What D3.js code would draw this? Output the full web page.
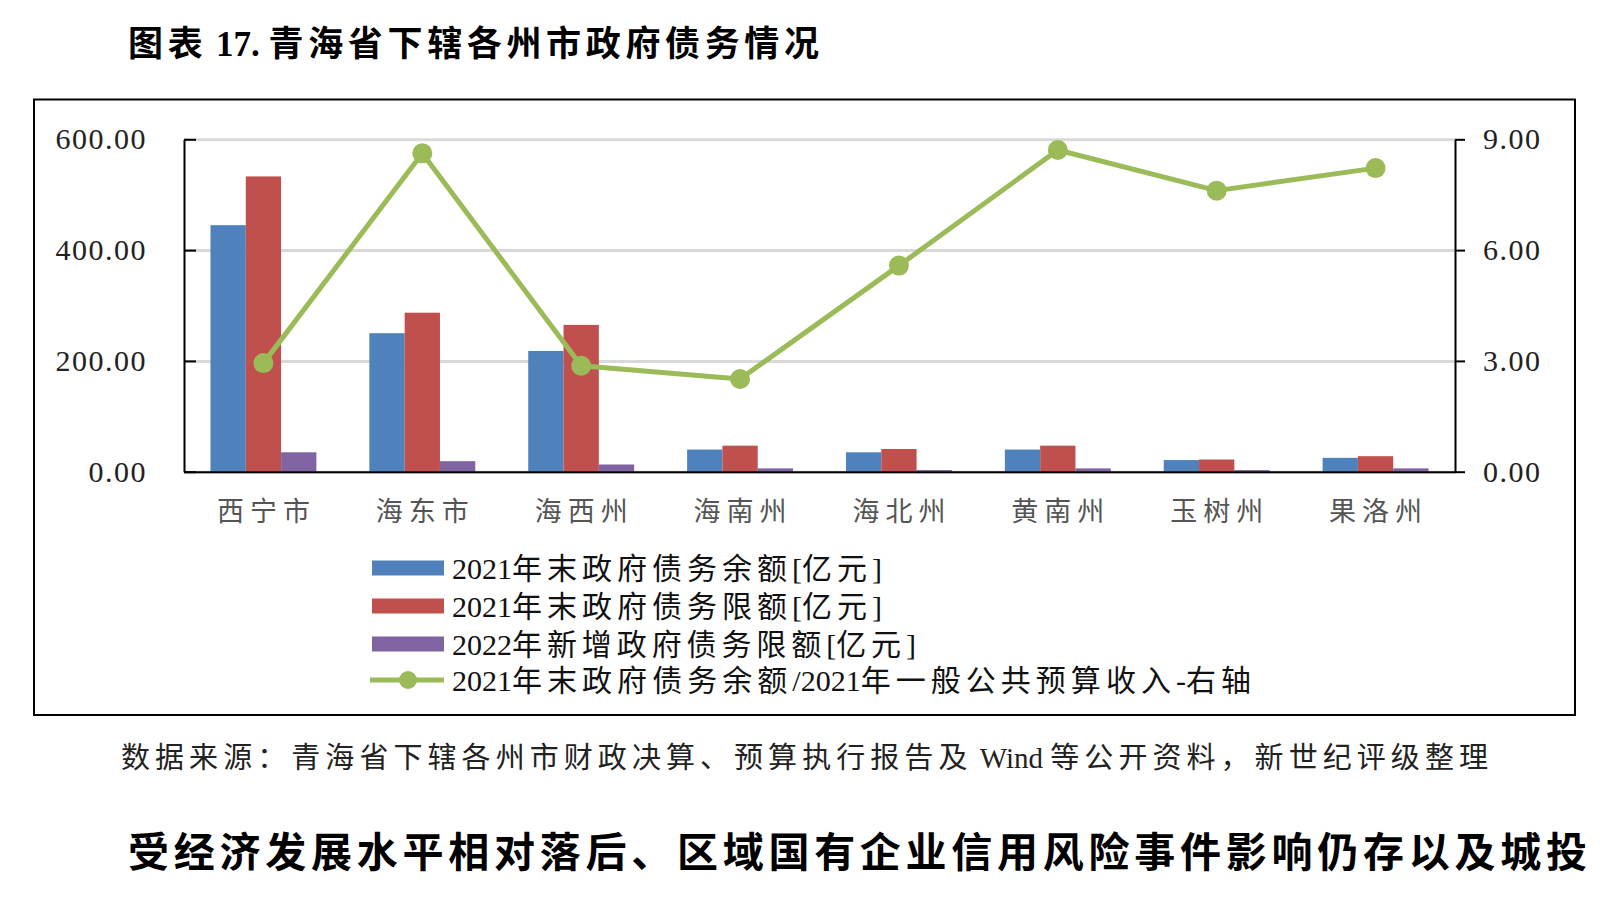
<!DOCTYPE html>
<html>
<head>
<meta charset="utf-8">
<script src="https://d3js.org/d3.v7.min.js"></script>
<style>
  body { margin: 0; background: #fff; }
  text { font-family: "Liberation Serif", "Noto Sans CJK SC", serif; }
</style>
</head>
<body>
<svg id="chart" width="1611" height="905"></svg>
<script>
  const categories = ["西宁市", "海东市", "海西州", "海南州", "海北州", "黄南州", "玉树州", "果洛州"];
  const debtBalance = [445, 250, 218, 40, 35, 40, 21, 25];
  const debtLimit = [533, 287, 265, 47, 41, 47, 22, 28];
  const newLimit = [35, 19, 13, 6, 3, 6, 3, 6];
  const debtRatio = [2.94, 8.62, 2.87, 2.51, 5.58, 8.71, 7.61, 8.22];
  const leftTicks = [0, 200, 400, 600];
  const rightTicks = [0, 3, 6, 9];
  const seriesNames = ["2021年末政府债务余额[亿元]", "2021年末政府债务限额[亿元]", "2022年新增政府债务限额[亿元]"];
  const lineName = "2021年末政府债务余额/2021年一般公共预算收入-右轴";
  const colors = ["#4F81BD", "#C0504D", "#8064A2"];
  const lineColor = "#9BBB59";

  const svg = d3.select("#chart");
  const plot = { left: 184, right: 1455, top: 139.3, bottom: 471.7 };

  // text with spacing only between CJK glyphs, stretched to a target width
  const isCJK = ch => /[\u3000-\u9fff\uff00-\uffef]/.test(ch);
  function spacedText(parent, str, x, y, size, width, opts = {}) {
    const t = parent.append("text")
      .attr("x", x).attr("y", y)
      .attr("dominant-baseline", "central")
      .attr("font-size", size)
      .attr("font-weight", opts.weight || "normal")
      .attr("fill", opts.fill || "#000");
    const runs = [];
    for (const ch of str) {
      const c = isCJK(ch);
      if (runs.length && runs[runs.length - 1].cjk === c) runs[runs.length - 1].s += ch;
      else runs.push({ cjk: c, s: ch });
    }
    const spans = runs.map(r => t.append("tspan").text(r.s).datum(r));
    const natural = t.node().getComputedTextLength();
    const chars = [...str];
    let n = chars.filter(isCJK).length;
    if (isCJK(chars[chars.length - 1])) n -= 1;
    const sp = Math.max(0, (width - natural) / Math.max(1, n));
    spans.forEach(s => { if (s.datum().cjk) s.attr("letter-spacing", sp); });
    return t;
  }

  // title / notes
  spacedText(svg, "图表 17. 青海省下辖各州市政府债务情况", 128, 44, 35, 691, { weight: "bold" });

  svg.append("rect")
    .attr("x", 34).attr("y", 99.5)
    .attr("width", 1541).attr("height", 615.5)
    .attr("fill", "none").attr("stroke", "#000").attr("stroke-width", 2);

  spacedText(svg, "数据来源：青海省下辖各州市财政决算、预算执行报告及 Wind 等公开资料，新世纪评级整理",
    121, 758, 29, 1367, { fill: "#222" });

  spacedText(svg, "受经济发展水平相对落后、区域国有企业信用风险事件影响仍存以及城投",
    128, 853, 41, 1459, { weight: "bold" });

  // scales
  const x = d3.scaleBand()
    .domain(categories)
    .range([plot.left, plot.right])
    .paddingInner(1 / 3)
    .paddingOuter(1 / 6);

  const x1 = d3.scaleBand()
    .domain(d3.range(3))
    .range([0, x.bandwidth()]);

  const y = d3.scaleLinear().domain([0, 600]).range([plot.bottom, plot.top]);
  const y2 = d3.scaleLinear().domain([0, 9]).range([plot.bottom, plot.top]);

  // grid
  svg.append("g")
    .attr("transform", `translate(${plot.left},0)`)
    .call(d3.axisLeft(y).tickValues(leftTicks).tickSize(-(plot.right - plot.left)).tickFormat(""))
    .call(g => g.select(".domain").remove())
    .call(g => g.selectAll("line").attr("stroke", "#D9D9D9").attr("stroke-width", 3));

  // bars
  const seriesData = [debtBalance, debtLimit, newLimit];
  seriesData.forEach((vals, si) => {
    svg.append("g").selectAll("rect")
      .data(vals)
      .join("rect")
      .attr("x", (d, i) => x(categories[i]) + x1(si))
      .attr("y", d => y(d))
      .attr("width", x1.bandwidth())
      .attr("height", d => y(0) - y(d))
      .attr("fill", colors[si]);
  });

  // axes
  const leftAxis = svg.append("g")
    .attr("transform", `translate(${plot.left},0)`)
    .call(d3.axisLeft(y).tickValues(leftTicks).tickFormat(d3.format(".2f"))
      .tickSizeInner(-12).tickSizeOuter(0).tickPadding(37));
  const rightAxis = svg.append("g")
    .attr("transform", `translate(${plot.right},0)`)
    .call(d3.axisRight(y2).tickValues(rightTicks).tickFormat(d3.format(".2f"))
      .tickSizeInner(10).tickSizeOuter(0).tickPadding(18));
  [leftAxis, rightAxis].forEach(a => {
    a.select(".domain").attr("stroke", "#000").attr("stroke-width", 2);
    a.selectAll(".tick line").attr("stroke", "#000").attr("stroke-width", 2);
    a.selectAll(".tick text")
      .attr("font-family", "Liberation Serif")
      .attr("font-size", 30).attr("fill", "#222")
      .attr("letter-spacing", 1.5);
  });

  const xAxis = svg.append("g")
    .attr("transform", `translate(0,${plot.bottom})`)
    .call(d3.axisBottom(x).tickSize(0).tickPadding(30));
  xAxis.select(".domain").attr("stroke", "#000").attr("stroke-width", 2);
  xAxis.selectAll(".tick text")
    .attr("font-family", "Noto Sans CJK SC")
    .attr("font-size", 27).attr("fill", "#555")
    .attr("textLength", 93).attr("lengthAdjust", "spacing");

  // ratio line
  const cx = c => x(c) + x.bandwidth() / 2;
  svg.append("path")
    .datum(debtRatio)
    .attr("fill", "none")
    .attr("stroke", lineColor)
    .attr("stroke-width", 5)
    .attr("stroke-linejoin", "round")
    .attr("d", d3.line().x((d, i) => cx(categories[i])).y(d => y2(d)));
  svg.append("g").selectAll("circle")
    .data(debtRatio)
    .join("circle")
    .attr("cx", (d, i) => cx(categories[i]))
    .attr("cy", d => y2(d))
    .attr("r", 10)
    .attr("fill", lineColor);

  // legend
  const legendRows = [568, 606, 644, 680];
  const legendWidths = [430, 430, 464, 799];
  const legend = svg.append("g");
  seriesNames.forEach((name, i) => {
    legend.append("rect")
      .attr("x", 372).attr("y", legendRows[i] - 7.5)
      .attr("width", 72).attr("height", 15)
      .attr("fill", colors[i]);
    spacedText(legend, name, 452, legendRows[i], 30, legendWidths[i], { fill: "#111" });
  });
  legend.append("line")
    .attr("x1", 370).attr("x2", 444)
    .attr("y1", legendRows[3]).attr("y2", legendRows[3])
    .attr("stroke", lineColor).attr("stroke-width", 5);
  legend.append("circle")
    .attr("cx", 408).attr("cy", legendRows[3]).attr("r", 9)
    .attr("fill", lineColor);
  spacedText(legend, lineName, 452, legendRows[3], 30, legendWidths[3], { fill: "#111" });
</script>
</body>
</html>
